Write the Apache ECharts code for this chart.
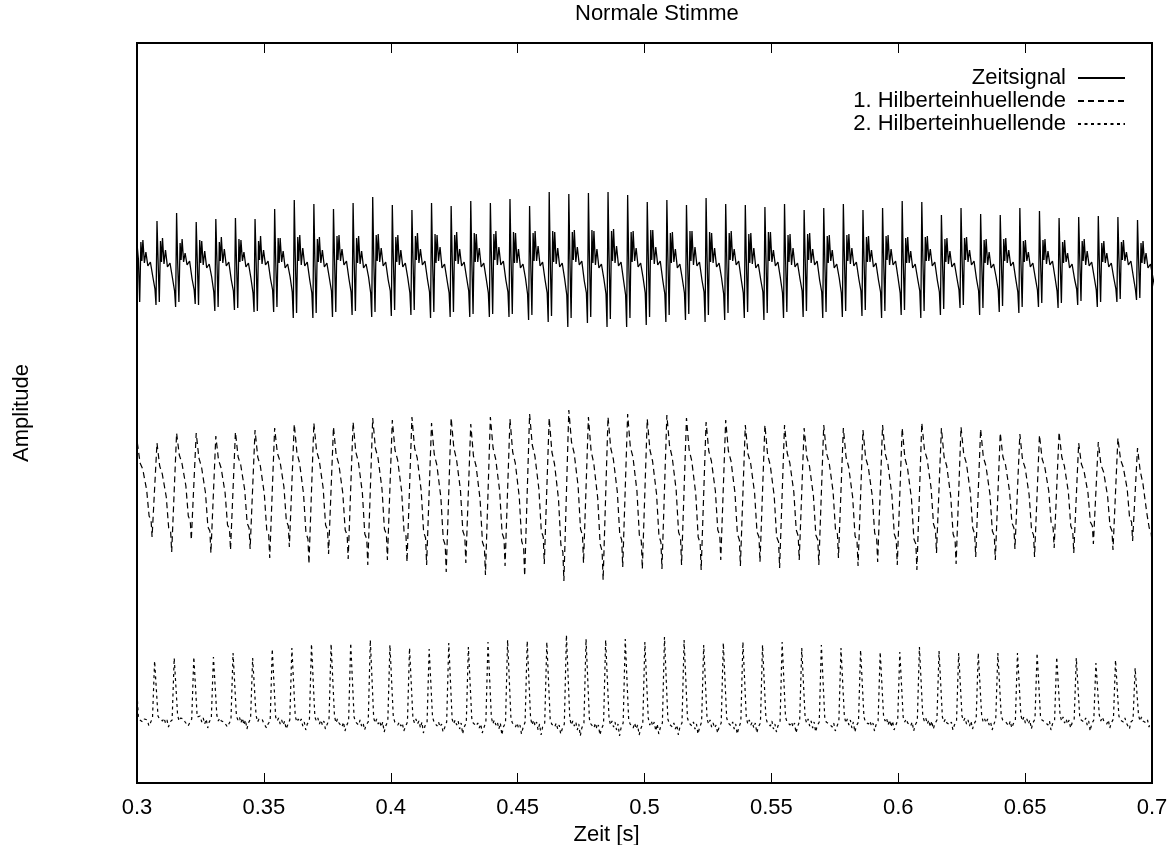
<!DOCTYPE html>
<html>
<head>
<meta charset="utf-8">
<title>Normale Stimme</title>
<script src="https://cdn.jsdelivr.net/npm/echarts@6/dist/echarts.min.js"></script>
<style>
  html, body { margin: 0; padding: 0; background: #fff; }
  #chart { width: 1175px; height: 845px; }
</style>
</head>
<body>
<div id="chart"></div>
<script>
// x axis (time in s)
var xMin = 0.3;
var xMax = 0.7;
var xStep = 0.05;

// the voice is periodic: one row per glottal cycle
var firstSpike = 0.30015;   // time of the first Zeitsignal spike (s)
var period = 0.0077283;     // cycle length (s)

// sample positions inside one cycle, ms relative to the Zeitsignal spike
var zeitOffsetsMs = [-0.39, 0, 0.39, 0.91, 1.38, 1.77, 2.17, 2.76, 3.35, 4.13, 5.12, 6.10, 6.93];
var env1OffsetsMs = [0, 1.06, 2.09, 3.66, 4.61, 5.39, 5.79];
var env2OffsetsMs = [-1.77, -0.94, 0.39, 0.98, 1.57, 2.17, 2.76, 3.35, 3.94, 4.53, 5.12];

// Zeitsignal, per cycle: dip, spike, then the ringing after it
var zeitCycles = [
  [483, 535, 524, 481, 541, 522, 543, 520, 531, 517, 521, 506, 494],
  [478, 562, 526, 481, 542, 521, 545, 519, 533, 516, 520, 505, 492],
  [476, 570, 523, 481, 540, 523, 544, 521, 530, 518, 522, 504, 493],
  [479, 561, 525, 478, 543, 520, 542, 518, 532, 515, 519, 506, 491],
  [472, 564, 527, 476, 541, 522, 546, 520, 534, 517, 521, 503, 492],
  [473, 565, 524, 475, 544, 521, 543, 522, 531, 516, 520, 505, 490],
  [471, 564, 526, 472, 542, 523, 547, 519, 533, 518, 522, 504, 493],
  [471, 574, 525, 476, 545, 520, 545, 521, 532, 515, 519, 506, 491],
  [465, 583, 528, 470, 546, 522, 548, 518, 535, 517, 521, 503, 490],
  [465, 579, 524, 470, 544, 521, 546, 520, 533, 516, 520, 505, 492],
  [466, 574, 527, 471, 547, 523, 548, 522, 534, 518, 522, 504, 491],
  [468, 580, 525, 472, 545, 520, 547, 519, 532, 515, 519, 506, 490],
  [466, 586, 528, 471, 548, 522, 549, 521, 535, 517, 521, 503, 492],
  [467, 578, 526, 473, 546, 521, 548, 518, 533, 516, 520, 505, 490],
  [468, 573, 527, 473, 547, 523, 550, 520, 534, 518, 522, 504, 491],
  [465, 580, 525, 471, 549, 520, 548, 522, 536, 515, 519, 503, 490],
  [466, 577, 528, 471, 548, 522, 551, 519, 534, 517, 521, 505, 492],
  [466, 582, 526, 469, 550, 521, 549, 521, 535, 516, 520, 504, 490],
  [466, 580, 529, 469, 549, 523, 552, 518, 536, 518, 522, 503, 491],
  [466, 584, 527, 469, 551, 520, 550, 520, 534, 515, 519, 505, 489],
  [463, 577, 528, 468, 550, 522, 552, 522, 537, 517, 521, 503, 490],
  [461, 591, 526, 467, 552, 521, 551, 519, 535, 516, 520, 504, 488],
  [456, 589, 529, 465, 551, 523, 553, 521, 536, 518, 522, 502, 490],
  [460, 590, 527, 466, 553, 520, 552, 518, 534, 515, 519, 504, 489],
  [456, 591, 528, 464, 552, 522, 554, 520, 537, 517, 521, 503, 488],
  [456, 588, 526, 465, 551, 521, 552, 522, 535, 516, 520, 505, 490],
  [458, 581, 529, 466, 553, 523, 553, 519, 536, 518, 522, 503, 489],
  [461, 583, 527, 468, 550, 520, 551, 521, 534, 515, 519, 504, 490],
  [463, 578, 528, 469, 552, 522, 552, 518, 536, 517, 521, 503, 491],
  [461, 585, 526, 468, 551, 521, 550, 520, 535, 516, 520, 505, 489],
  [463, 579, 527, 470, 550, 523, 552, 522, 534, 518, 522, 504, 490],
  [465, 578, 525, 471, 549, 520, 550, 519, 535, 515, 519, 503, 491],
  [463, 576, 528, 470, 551, 522, 551, 521, 533, 517, 521, 505, 490],
  [465, 579, 526, 471, 548, 521, 549, 518, 535, 516, 520, 504, 492],
  [466, 573, 527, 472, 549, 523, 550, 520, 534, 518, 522, 503, 491],
  [465, 575, 525, 471, 547, 520, 548, 522, 533, 515, 519, 505, 490],
  [466, 579, 528, 472, 548, 522, 549, 519, 535, 517, 521, 504, 492],
  [467, 573, 526, 473, 546, 521, 547, 521, 533, 516, 520, 503, 491],
  [465, 575, 527, 472, 547, 523, 548, 518, 534, 518, 522, 505, 490],
  [468, 582, 525, 473, 545, 520, 546, 520, 532, 515, 519, 504, 492],
  [465, 581, 528, 472, 546, 522, 547, 522, 534, 517, 521, 503, 491],
  [468, 568, 526, 474, 544, 521, 545, 519, 532, 516, 520, 505, 493],
  [475, 575, 527, 478, 545, 523, 546, 521, 533, 518, 522, 504, 492],
  [468, 569, 525, 475, 543, 520, 544, 518, 531, 515, 519, 506, 493],
  [471, 568, 527, 477, 544, 522, 545, 520, 533, 517, 521, 504, 491],
  [470, 575, 524, 476, 542, 521, 543, 522, 531, 516, 520, 505, 493],
  [476, 572, 526, 480, 543, 523, 544, 519, 532, 518, 522, 506, 492],
  [475, 565, 525, 480, 541, 520, 543, 521, 530, 515, 519, 504, 494],
  [478, 566, 527, 482, 542, 522, 544, 518, 532, 517, 521, 506, 493],
  [476, 567, 524, 481, 540, 521, 542, 520, 530, 516, 520, 505, 494],
  [481, 566, 526, 484, 541, 523, 543, 522, 531, 518, 522, 506, 493],
  [483, 563, 525, 485, 540, 520, 542, 519, 530, 515, 519, 505, 494]
];

// 1. Hilberteinhuellende, per cycle: peak, slow fall, minimum
var env1Cycles = [
  [340, 320, 314, 293, 267, 263, 246],
  [340, 317, 309, 286, 255, 251, 231],
  [350, 328, 320, 297, 267, 262, 243],
  [350, 325, 316, 290, 256, 252, 230],
  [347, 323, 315, 290, 258, 254, 233],
  [351, 326, 318, 293, 260, 255, 234],
  [353, 326, 317, 289, 253, 248, 225],
  [355, 330, 322, 296, 262, 257, 236],
  [359, 330, 320, 289, 250, 244, 219],
  [360, 332, 323, 295, 258, 253, 229],
  [356, 328, 319, 290, 253, 248, 224],
  [361, 331, 321, 290, 249, 244, 218],
  [365, 335, 325, 294, 254, 249, 223],
  [363, 333, 323, 292, 252, 247, 221],
  [366, 335, 325, 292, 251, 245, 218],
  [360, 329, 318, 286, 244, 238, 211],
  [365, 335, 324, 293, 252, 246, 220],
  [359, 327, 317, 284, 241, 235, 208],
  [366, 335, 324, 292, 250, 244, 217],
  [364, 331, 320, 286, 242, 235, 207],
  [369, 338, 327, 294, 252, 246, 219],
  [365, 331, 319, 284, 238, 231, 202],
  [373, 341, 330, 297, 254, 248, 220],
  [366, 332, 320, 285, 239, 232, 203],
  [366, 335, 324, 291, 249, 243, 216],
  [369, 336, 326, 292, 248, 242, 214],
  [364, 333, 322, 289, 247, 241, 214],
  [368, 337, 326, 293, 251, 245, 218],
  [365, 333, 322, 289, 246, 240, 213],
  [361, 332, 322, 292, 253, 248, 223],
  [363, 332, 322, 290, 249, 243, 217],
  [358, 329, 320, 290, 251, 246, 221],
  [358, 328, 318, 287, 246, 241, 215],
  [358, 330, 320, 291, 253, 247, 223],
  [355, 326, 317, 287, 248, 243, 218],
  [358, 330, 321, 292, 254, 249, 225],
  [355, 326, 316, 286, 247, 242, 217],
  [353, 325, 316, 287, 250, 245, 221],
  [358, 329, 319, 288, 249, 243, 218],
  [355, 325, 315, 284, 244, 239, 213],
  [360, 333, 324, 295, 259, 253, 230],
  [355, 326, 317, 287, 249, 243, 219],
  [356, 329, 320, 291, 255, 249, 226],
  [354, 326, 317, 289, 252, 247, 223],
  [350, 326, 318, 292, 260, 255, 234],
  [349, 323, 315, 288, 253, 248, 226],
  [348, 324, 316, 292, 260, 255, 235],
  [351, 326, 317, 291, 257, 252, 230],
  [340, 319, 312, 290, 261, 257, 239],
  [341, 318, 311, 287, 257, 252, 233],
  [345, 323, 316, 294, 265, 261, 242],
  [335, 312, 300, 270, 255, 250, 238]
];

// 2. Hilberteinhuellende, per cycle: base, peak, then the noisy floor
var env2Cycles = [
  [64, 125, 66, 63, 65, 61, 64, 62, 63, 57, 60],
  [65, 122, 67, 64, 66, 62, 65, 60, 63, 56, 61],
  [63, 125, 68, 62, 65, 63, 64, 61, 62, 57, 60],
  [64, 126, 66, 64, 67, 61, 65, 59, 64, 55, 61],
  [65, 126, 68, 62, 65, 62, 63, 61, 62, 56, 59],
  [63, 130, 67, 63, 66, 60, 65, 58, 63, 54, 60],
  [64, 125, 68, 61, 64, 62, 64, 60, 61, 55, 59],
  [62, 134, 66, 62, 65, 59, 63, 58, 62, 54, 58],
  [63, 135, 67, 61, 64, 61, 64, 57, 61, 53, 59],
  [62, 139, 66, 62, 65, 59, 63, 58, 62, 54, 58],
  [63, 139, 67, 60, 64, 60, 62, 56, 61, 52, 57],
  [62, 140, 66, 61, 63, 58, 63, 57, 60, 53, 58],
  [61, 143, 65, 60, 64, 59, 62, 56, 61, 51, 57],
  [62, 138, 66, 61, 63, 58, 61, 57, 60, 52, 56],
  [61, 135, 65, 60, 64, 59, 62, 55, 61, 50, 57],
  [60, 134, 66, 61, 62, 57, 61, 56, 59, 51, 55],
  [61, 140, 64, 59, 63, 58, 62, 54, 60, 49, 56],
  [60, 136, 65, 60, 62, 57, 60, 55, 59, 50, 55],
  [61, 141, 66, 59, 63, 58, 61, 54, 60, 48, 56],
  [60, 143, 64, 60, 62, 56, 60, 55, 58, 49, 55],
  [61, 142, 65, 58, 63, 57, 61, 53, 59, 48, 56],
  [60, 141, 64, 59, 61, 56, 60, 54, 58, 49, 54],
  [59, 148, 65, 58, 62, 57, 61, 53, 59, 47, 55],
  [60, 144, 64, 59, 61, 55, 60, 54, 58, 48, 54],
  [59, 143, 65, 58, 62, 56, 61, 53, 59, 47, 55],
  [60, 144, 64, 59, 61, 55, 60, 54, 58, 48, 54],
  [59, 141, 65, 58, 62, 57, 61, 52, 59, 49, 55],
  [60, 146, 64, 59, 61, 56, 60, 54, 58, 48, 56],
  [60, 143, 65, 60, 62, 57, 61, 54, 59, 49, 55],
  [61, 138, 64, 59, 63, 56, 60, 55, 58, 50, 56],
  [60, 140, 65, 60, 62, 57, 61, 54, 59, 49, 55],
  [61, 141, 66, 59, 63, 58, 61, 55, 60, 50, 56],
  [60, 138, 65, 60, 62, 57, 62, 54, 59, 51, 57],
  [61, 141, 66, 61, 63, 58, 61, 56, 60, 50, 56],
  [62, 135, 65, 60, 64, 57, 62, 55, 61, 51, 57],
  [61, 138, 66, 61, 63, 59, 61, 56, 60, 52, 56],
  [62, 135, 67, 60, 64, 58, 63, 55, 61, 51, 57],
  [61, 133, 66, 61, 63, 59, 62, 57, 60, 52, 58],
  [62, 131, 67, 62, 65, 58, 63, 56, 62, 53, 57],
  [63, 131, 66, 61, 64, 60, 62, 57, 61, 52, 58],
  [62, 136, 67, 62, 65, 59, 63, 56, 62, 54, 59],
  [63, 132, 66, 61, 64, 60, 62, 58, 61, 53, 58],
  [62, 130, 67, 62, 65, 59, 63, 57, 62, 54, 59],
  [63, 130, 68, 61, 64, 60, 64, 58, 61, 53, 58],
  [64, 130, 67, 63, 65, 61, 63, 57, 62, 55, 59],
  [63, 130, 68, 62, 66, 60, 64, 59, 63, 54, 60],
  [64, 130, 67, 63, 65, 61, 63, 58, 62, 53, 59],
  [63, 126, 68, 62, 66, 60, 64, 59, 63, 55, 60],
  [64, 125, 67, 63, 65, 61, 65, 58, 62, 52, 59],
  [63, 120, 68, 62, 66, 62, 64, 59, 63, 55, 60],
  [64, 123, 67, 63, 65, 61, 65, 60, 62, 54, 61],
  [63, 115, 68, 62, 66, 62, 64, 60, 63, 56, 61]
];

var seriesNames = ["Zeitsignal", "1. Hilberteinhuellende", "2. Hilberteinhuellende"];

// cycle rows -> [time, value] points
function toPoints(rows, offsetsMs) {
  var pts = [];
  rows.forEach(function (row, k) {
    var t0 = firstSpike + k * period;
    row.forEach(function (v, j) {
      pts.push([t0 + offsetsMs[j] / 1000, v]);
    });
  });
  return pts;
}

var font = '"Liberation Sans", Arial, Helvetica, sans-serif';
var chart = echarts.init(document.getElementById("chart"));

function lineSeries(name, data, dash, width) {
  return {
    name: name,
    type: "line",
    data: data,
    symbol: "none",
    showSymbol: false,
    clip: true,
    silent: true,
    animation: false,
    itemStyle: { color: "#000" },
    lineStyle: { color: "#000", width: width, type: dash },
    emphasis: { disabled: true }
  };
}

var option = {
  backgroundColor: "#fff",
  animation: false,
  title: {
    text: "Normale Stimme",
    left: 575,
    top: 3,
    padding: 0,
    textStyle: { fontFamily: font, fontSize: 22, fontWeight: "normal", color: "#000" }
  },
  legend: {
    data: seriesNames,
    orient: "vertical",
    align: "right",
    right: 44,
    top: 62,
    itemWidth: 47,
    itemHeight: 14,
    itemGap: 1,
    selectedMode: false,
    itemStyle: { opacity: 0 },
    textStyle: { fontFamily: font, fontSize: 22, color: "#000", padding: [0, 7, 0, 0] }
  },
  grid: {
    left: 137,
    right: 23,
    top: 43,
    bottom: 62,
    outerBoundsMode: "none",
    containLabel: false,
    show: true,
    borderColor: "#000",
    borderWidth: 2,
    backgroundColor: "transparent"
  },
  xAxis: [
    {
      type: "value",
      min: xMin,
      max: xMax,
      interval: xStep,
      axisLine: { show: false },
      axisTick: { inside: true, length: 10, lineStyle: { color: "#000", width: 1 } },
      axisLabel: {
        color: "#000",
        fontFamily: font,
        fontSize: 22,
        margin: 14,
        showMinLabel: true,
        showMaxLabel: true
      },
      splitLine: { show: false },
      name: "Zeit [s]",
      nameLocation: "middle",
      nameGap: 30,
      nameTextStyle: { fontFamily: font, fontSize: 22, color: "#000", padding: [0, 76, 0, 0] }
    },
    {
      type: "value",
      position: "top",
      min: xMin,
      max: xMax,
      interval: xStep,
      axisLine: { show: false },
      axisTick: { inside: true, length: 10, lineStyle: { color: "#000", width: 1 } },
      axisLabel: { show: false },
      splitLine: { show: false }
    }
  ],
  yAxis: {
    type: "value",
    min: 0,
    max: 740,
    axisLine: { show: false },
    axisTick: { show: false },
    axisLabel: { show: false },
    splitLine: { show: false },
    name: "Amplitude",
    nameLocation: "middle",
    nameRotate: 90,
    nameGap: 104,
    nameTextStyle: { fontFamily: font, fontSize: 22, color: "#000" }
  },
  series: [
    lineSeries(seriesNames[0], toPoints(zeitCycles, zeitOffsetsMs), "solid", 1.3),
    lineSeries(seriesNames[1], toPoints(env1Cycles, env1OffsetsMs), [6, 4], 1.2),
    lineSeries(seriesNames[2], toPoints(env2Cycles, env2OffsetsMs), [3, 3.5], 1.2)
  ]
};

chart.setOption(option);
</script>
</body>
</html>
